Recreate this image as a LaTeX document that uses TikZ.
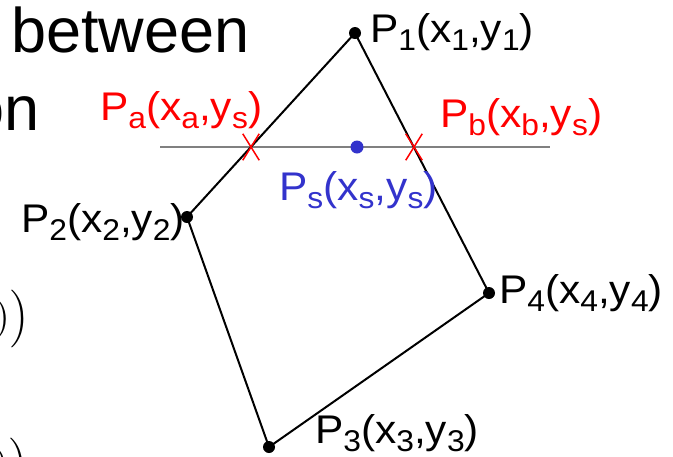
\documentclass[tikz,border=0pt]{standalone}
\usepackage{amsmath}
\usepackage{graphicx}
\usepackage{fontspec}
\setmainfont{Liberation Sans}
\newfontfamily\lblfont[FakeStretch=1.06]{Liberation Sans}
\usetikzlibrary{shapes.misc}

\definecolor{psblue}{RGB}{51,51,204}

\newcommand\lowsub[1]{\raisebox{-8pt}{\fontsize{30}{30}\selectfont #1}}
\newcommand\ptxt[3]{P\lowsub{#1}(x\lowsub{#2},y\lowsub{#3})}

\begin{document}
\begin{tikzpicture}[
  x=1pt, y=-1pt,
  vdot/.style={circle, fill=black, inner sep=0pt, minimum size=12pt},
  sdot/.style={circle, fill=psblue, inner sep=0pt, minimum size=13pt},
  hit/.style={cross out, draw=red, line width=1.5pt, inner sep=0pt, minimum width=15pt, minimum height=25pt},
  lbl/.style={inner sep=0pt, font=\lblfont\fontsize{40}{40}\selectfont},
  slide/.style={inner sep=0pt, font=\fontsize{63}{63}\selectfont},
  edge/.style={line width=2pt}
]
\useasboundingbox (0,0) rectangle (673,456);
\clip (0,0) rectangle (673,456);

% cut-off slide text
\node[slide, anchor=base west] (between) at (11,52) {between};
\node[slide, anchor=base east] (on) at (40,130) {on};
\node[inner sep=0pt, anchor=west] (par1) at (-4,319) {\scalebox{3.2}{$\big)\Big)$}};
\node[inner sep=0pt, anchor=west] (par2) at (-5,467) {\scalebox{3.2}{$\big)\Big)$}};

% polygon vertices and scan line
\coordinate (p1) at (355,33);
\coordinate (p2) at (187,217);
\coordinate (p3) at (269,447);
\coordinate (p4) at (489,293);
\coordinate (sl) at (160,147);
\coordinate (sr) at (550,147);

\draw[gray, line width=2.2pt] (sl) -- (sr);
\draw[edge] (p1) -- (p2) -- (p3) -- (p4) -- cycle;

\node[hit] (pa) at (251,147) {};
\node[hit] (pb) at (414,147) {};
\node[sdot] (ps) at (357,147) {};

\node[vdot] at (p1) {};
\node[vdot] at (p2) {};
\node[vdot] at (p3) {};
\node[vdot] at (p4) {};

% labels
\node[lbl, anchor=base west] (l1) at (370,42) {\ptxt{1}{1}{1}};
\node[lbl, anchor=base east] (l2) at (185,232) {\ptxt{2}{2}{2}};
\node[lbl, anchor=base west] (l3) at (315,443) {\ptxt{3}{3}{3}};
\node[lbl, anchor=base west] (l4) at (499,303) {\ptxt{4}{4}{4}};
\node[lbl, anchor=base west, text=red] (la) at (100,120) {\ptxt{a}{a}{s}};
\node[lbl, anchor=base west, text=red] (lb) at (440,127) {\ptxt{b}{b}{s}};
\node[lbl, anchor=base west, text=psblue] (ls) at (279,200) {\ptxt{s}{s}{s}};
\end{tikzpicture}
\end{document}
